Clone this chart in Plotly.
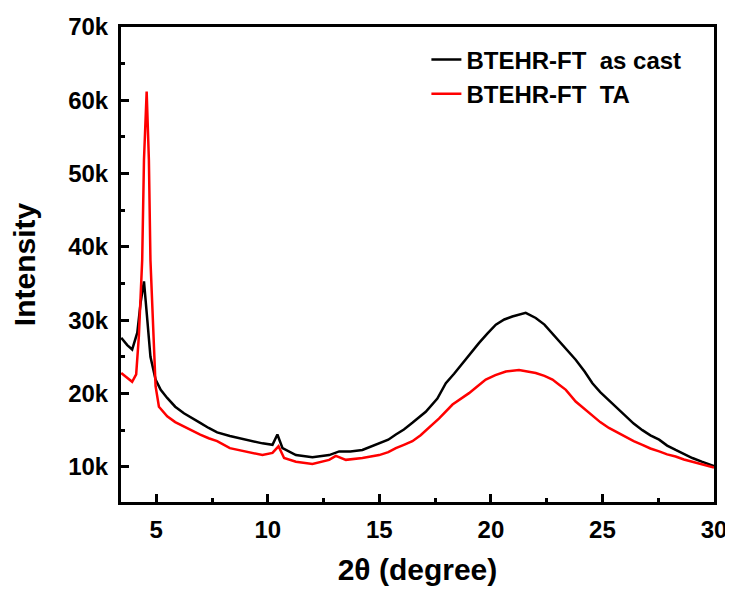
import plotly.graph_objects as go

# 2θ positions (degree) and intensities
x_cast = [3.43, 3.70, 3.92, 4.15, 4.30, 4.45, 4.60, 4.74, 4.97, 5.20, 5.49, 5.85, 6.24,
          6.60, 6.97, 7.35, 7.73, 8.30, 9.02, 9.76, 10.21, 10.43, 10.66, 11.26, 12.00,
          12.75, 13.20, 13.70, 14.24, 14.99, 15.40, 15.74, 16.10, 16.48, 17.08, 17.60,
          17.98, 18.35, 18.72, 19.10, 19.47, 19.85, 20.22, 20.60, 20.96, 21.56, 22.01,
          22.40, 22.76, 23.06, 23.36, 23.80, 24.20, 24.55, 24.90, 25.29, 25.65, 26.04,
          26.40, 26.79, 27.15, 27.54, 27.90, 28.28, 28.65, 29.03, 29.45, 29.85, 30.00]
y_cast = [27600, 26600, 26000, 28300, 32400, 35300, 30000, 25000, 21900, 20500, 19400,
          18200, 17300, 16600, 16000, 15300, 14700, 14200, 13700, 13200, 13000, 14400,
          12550, 11600, 11300, 11600, 12100, 12100, 12300, 13200, 13700, 14400, 15100,
          16000, 17500, 19300, 21400, 22700, 24100, 25500, 26900, 28200, 29400, 30100,
          30500, 31000, 30300, 29400, 28200, 27200, 26200, 24600, 23000, 21400, 20200,
          19100, 18000, 16900, 15900, 15000, 14300, 13700, 12900, 12300, 11700, 11200,
          10700, 10300, 10100]

x_ta = [3.43, 3.70, 3.92, 4.10, 4.22, 4.37, 4.45, 4.57, 4.67, 4.74, 4.97, 5.12, 5.49,
        5.85, 6.24, 6.60, 6.97, 7.35, 7.73, 8.30, 9.02, 9.76, 10.21, 10.48, 10.73, 11.26,
        12.00, 12.75, 13.05, 13.50, 14.24, 14.99, 15.40, 15.74, 16.10, 16.48, 16.85,
        17.23, 17.68, 18.28, 18.65, 19.02, 19.40, 19.77, 20.20, 20.67, 21.26, 22.01,
        22.40, 22.76, 23.06, 23.36, 23.80, 24.20, 24.55, 24.90, 25.29, 25.65, 26.04,
        26.40, 26.79, 27.15, 27.54, 27.90, 28.28, 28.65, 29.03, 29.45, 29.85, 30.00]
y_ta = [22800, 22200, 21600, 22600, 27800, 38200, 51900, 61200, 51900, 38200, 21000,
        18200, 16900, 16100, 15500, 14900, 14400, 13900, 13500, 12550, 12100, 11600,
        11900, 12800, 11200, 10700, 10400, 10950, 11500, 10950, 11200, 11600, 12000,
        12550, 13000, 13500, 14300, 15300, 16600, 18500, 19300, 20050, 21000, 21900,
        22500, 23000, 23200, 22800, 22400, 21900, 21200, 20500, 18900, 17900, 16900,
        16100, 15300, 14700, 14100, 13500, 13000, 12500, 12100, 11700, 11400, 11000,
        10700, 10350, 10000, 9900]

names = ["BTEHR-FT\u00a0 as cast", "BTEHR-FT\u00a0 TA"]
colors = ["#000000", "#ff0000"]

FONT = "Liberation Sans, Arial, sans-serif"

fig = go.Figure()
fig.add_trace(go.Scatter(x=x_cast, y=y_cast, mode="lines", name=names[0],
                         line=dict(color=colors[0], width=2.5)))
fig.add_trace(go.Scatter(x=x_ta, y=y_ta, mode="lines", name=names[1],
                         line=dict(color=colors[1], width=2.5)))

axis_common = dict(
    showgrid=False, zeroline=False, showline=True, linecolor="black", linewidth=3,
    mirror=True, ticks="inside", tickcolor="black", tickwidth=3, ticklen=8,
    ticklabeloverflow="allow",
    tickfont=dict(family=FONT, size=24, color="black", weight="bold"),
)

fig.update_xaxes(
    range=[3.42, 30], dtick=5, tick0=0, ticklabelstandoff=4,
    minor=dict(dtick=2.5, ticks="inside", ticklen=4, tickwidth=3, tickcolor="black"),
    title=dict(text="2θ (degree)", font=dict(family=FONT, size=30, color="black", weight="bold"),
               standoff=35),
    **axis_common,
)
fig.update_yaxes(
    range=[5200, 70000], dtick=10000, tick0=0, tickformat="~s", ticklabelstandoff=5,
    minor=dict(dtick=5000, ticks="inside", ticklen=4, tickwidth=3, tickcolor="black"),
    title=dict(text="Intensity", font=dict(family=FONT, size=30, color="black", weight="bold"),
               standoff=28),
    **axis_common,
)

fig.update_layout(
    width=725, height=578,
    margin=dict(l=113, r=19, t=19, b=84, autoexpand=False),
    paper_bgcolor="white", plot_bgcolor="white",
    showlegend=True,
    legend=dict(x=0.515, y=0.978, xanchor="left", yanchor="top",
                bgcolor="rgba(0,0,0,0)", borderwidth=0,
                font=dict(family=FONT, size=24, color="black", weight="bold")),
)

fig.write_html("out.html")
